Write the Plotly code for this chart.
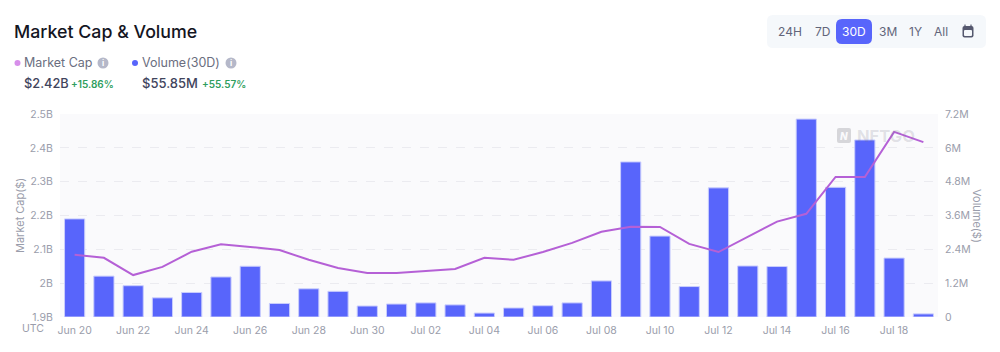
import plotly.graph_objects as go
from plotly.subplots import make_subplots

W, H = 1000, 352
FONT = "Inter"

dates = ["Jun 20","Jun 21","Jun 22","Jun 23","Jun 24","Jun 25","Jun 26","Jun 27","Jun 28","Jun 29",
         "Jun 30","Jul 01","Jul 02","Jul 03","Jul 04","Jul 05","Jul 06","Jul 07","Jul 08","Jul 09",
         "Jul 10","Jul 11","Jul 12","Jul 13","Jul 14","Jul 15","Jul 16","Jul 17","Jul 18","Jul 19"]
volume = [3.48,1.45,1.11,0.68,0.87,1.42,1.80,0.48,1.00,0.91,
          0.39,0.46,0.50,0.43,0.14,0.32,0.40,0.50,1.28,5.50,
          2.87,1.08,4.58,1.81,1.79,7.02,4.60,6.28,2.09,0.11]
market_cap = [2.084,2.075,2.024,2.048,2.093,2.115,2.107,2.098,2.069,2.045,
              2.030,2.030,2.036,2.042,2.075,2.069,2.092,2.119,2.152,2.167,
              2.166,2.116,2.092,2.138,2.182,2.205,2.314,2.314,2.447,2.417]
left_ticks = [1.9,2.0,2.1,2.2,2.3,2.4,2.5]
left_labels = ["1.9B","2B","2.1B","2.2B","2.3B","2.4B","2.5B"]
right_ticks = [0,1.2,2.4,3.6,4.8,6,7.2]
right_labels = ["0","1.2M","2.4M","3.6M","4.8M","6M","7.2M"]
range_buttons = [("24H",790),("7D",822),("30D",854),("3M",888),("1Y",915),("All",941)]

GREY = "#9a9dab"
L, R, T, B = 60, 62, 114, 35
PW, PH = W - L - R, H - T - B
px = lambda x: (x - L) / PW
py = lambda y: 1 - (y - T) / PH

def rrect(x0, y0, x1, y1, r):
    a, b, c, d = px(x0), py(y0), px(x1), py(y1)
    rx, ry = r / PW, r / PH
    return (f"M{a+rx},{b} L{c-rx},{b} Q{c},{b} {c},{b-ry} L{c},{d+ry} Q{c},{d} {c-rx},{d} "
            f"L{a+rx},{d} Q{a},{d} {a},{d+ry} L{a},{b-ry} Q{a},{b} {a+rx},{b} Z")

fig = make_subplots(specs=[[{"secondary_y": True}]])
fig.add_trace(go.Bar(x=dates, y=volume, width=0.69,
                     marker=dict(color="#5865FB", line=dict(color="#C9CDFD", width=1)),
                     name="Volume(30D)"), secondary_y=True)
fig.add_trace(go.Scatter(x=dates, y=market_cap, mode="lines",
                         line=dict(color="#B560D6", width=2), name="Market Cap"), secondary_y=False)

shapes, ann = [], []
def text(x, y, s, size=12, color="#6b6e80", anchor="left", weight=400, angle=0, style="normal"):
    off = -2 if anchor == "left" else 0
    ann.append(dict(x=px(x + off), y=py(y), xref="paper", yref="paper", text=s, showarrow=False,
                    xanchor=anchor, yanchor="middle", textangle=angle,
                    font=dict(family=FONT, size=size, color=color, weight=weight, style=style)))
def fill(path, color, **kw):
    shapes.append(dict(type="path", path=path, xref="paper", yref="paper", fillcolor=color,
                       line=dict(width=0), **kw))
def circle(cx, cy, r, color):
    shapes.append(dict(type="circle", xref="paper", yref="paper", x0=px(cx-r), x1=px(cx+r),
                       y0=py(cy+r), y1=py(cy-r), fillcolor=color, line=dict(width=0)))

text(14, 31.5, "Market Cap &amp; Volume", 17.8, "#14151f", weight=500)
circle(17.5, 63, 3, "#D78FEA")
circle(135, 63, 3, "#5865FB")
text(24, 63, "Market Cap", 12.5)
text(142, 63, "Volume(30D)", 12.5)
circle(103, 63, 5.5, "#B5B8C9")
circle(231, 63, 5.5, "#B5B8C9")
text(103, 63, "i", 8, "#ffffff", "center", 700)
text(231, 63, "i", 8, "#ffffff", "center", 700)
text(24, 83, "$2.42B", 12.8, "#41445C", weight=500)
text(142, 83, "$55.85M", 13, "#41445C", weight=500)
text(71, 84, "+15.86%", 10, "#2F9E5E", weight=600)
text(202, 84, "+55.57%", 10, "#2F9E5E", weight=600)

fill(rrect(767, 15, 986, 48, 6), "#F5F8FB")
fill(rrect(836, 19, 872, 44, 6), "#5865FB")
for lab, cx in range_buttons:
    text(cx, 31.5, lab, 12, "#ffffff" if lab == "30D" else "#62657A", "center")
fill(rrect(962.5, 26, 973.5, 37.5, 2), "#55586E")
fill(rrect(964, 30, 972, 36, 1), "#F5F8FB")
for x in (965, 971):
    fill(rrect(x - 0.6, 24.5, x + 0.6, 28, 0.3), "#55586E")

text(33, 328, "UTC", 10.5, GREY, "center")
text(20, 216, "Market Cap($)", 11, GREY, "center", angle=-90)
text(977, 216, "Volume($)", 11, GREY, "center", angle=90)

# watermark: semi-transparent so the line shows through it
fill(rrect(837, 128, 851, 143, 2), "#D6D6DA")
text(844, 135.5, "N", 10, "#FAFAFC", "center", 800, style="italic")
text(857, 135.5, "NFTGO", 16.5, "rgba(120,120,135,0.2)", weight=700)

fig.update_layout(width=W, height=H, autosize=False, showlegend=False,
                  margin=dict(l=L, r=R, t=T, b=B, pad=0),
                  paper_bgcolor="#ffffff", plot_bgcolor="#FAFAFC",
                  font=dict(family=FONT, size=11, color=GREY),
                  shapes=shapes, annotations=ann, bargap=0.31, hovermode=False)
TICK = "rgba(0,0,0,0)"
fig.update_xaxes(type="category", categoryorder="array", categoryarray=dates, domain=[0, 1],
                 range=[-0.5, 29.5], tickmode="array", tickvals=dates[::2], ticktext=dates[::2],
                 showgrid=False, zeroline=False, showline=False, ticks="outside", ticklen=3,
                 tickcolor=TICK, tickangle=0, tickfont=dict(size=10.5, color=GREY), automargin=False)
fig.update_yaxes(range=[1.9, 2.5], tickmode="array", tickvals=left_ticks, ticktext=left_labels,
                 showgrid=True, gridcolor="#EBEBF0", griddash="dash", gridwidth=1,
                 zeroline=False, showline=False, automargin=False, ticks="outside", ticklen=4,
                 tickcolor=TICK, tickfont=dict(size=10.5, color=GREY), secondary_y=False)
fig.update_yaxes(range=[0, 7.2], tickmode="array", tickvals=right_ticks, ticktext=right_labels,
                 showgrid=False, zeroline=False, showline=False, automargin=False, ticks="outside",
                 ticklen=4, tickcolor=TICK, tickfont=dict(size=10.5, color=GREY), secondary_y=True)
# draw left-axis line above the bars
fig.update_layout(yaxis=dict(layer="above traces", overlaying="y2", side="left"),
                  yaxis2=dict(overlaying=None, side="right"))

fig.write_html("out.html", config={"displayModeBar": False},
               post_script="document.body.style.margin='0';document.body.style.overflow='hidden';")
